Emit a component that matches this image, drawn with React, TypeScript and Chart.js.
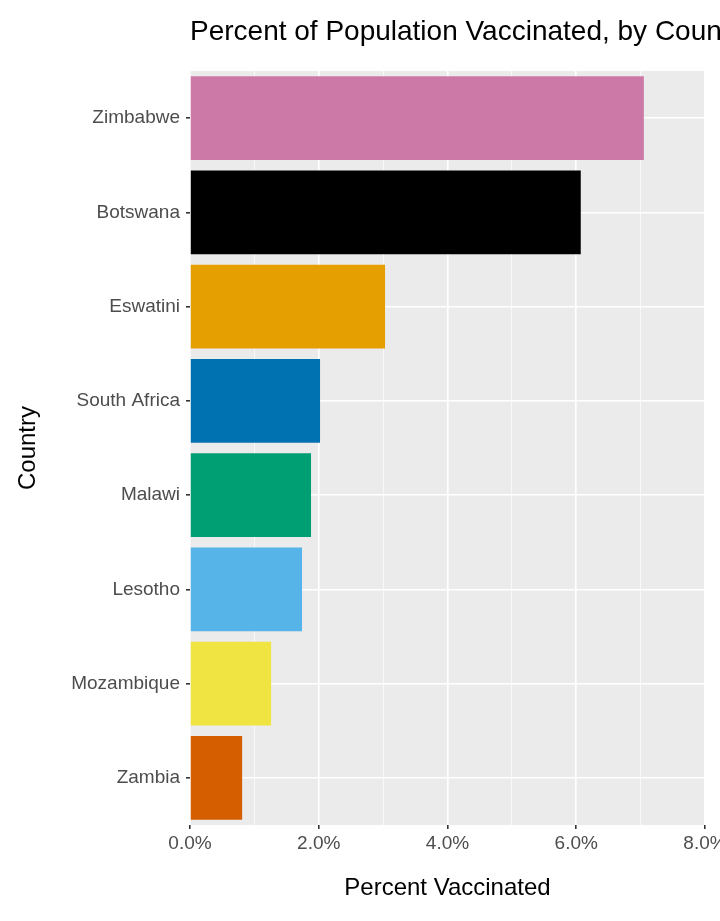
import { useEffect, useRef } from 'react'
import { Chart, registerables } from 'chart.js'

Chart.register(...registerables)

const countries = ['Zimbabwe', 'Botswana', 'Eswatini', 'South Africa', 'Malawi', 'Lesotho', 'Mozambique', 'Zambia']
const percentVaccinated = [7.05, 6.07, 3.03, 2.02, 1.88, 1.74, 1.26, 0.81]
const barColors = ['#CC79A7', '#000000', '#E69F00', '#0072B2', '#009E73', '#56B4E9', '#F0E442', '#D55E00']

const W = 745
const H = 921
const TOP = 71
const BOTTOM = 825

const panelBg = {
  id: 'panelBg',
  beforeDraw(chart: Chart) {
    const { ctx, chartArea: a } = chart
    ctx.save()
    ctx.fillStyle = '#EBEBEB'
    ctx.fillRect(a.left, a.top, a.right - a.left, a.bottom - a.top)
    ctx.fillStyle = '#000000'
    ctx.font = '28px "Liberation Sans", Arial, sans-serif'
    ctx.textBaseline = 'alphabetic'
    ctx.fillText('Percent of Population Vaccinated, by Country', a.left, 40)
    ctx.restore()
  },
}

export default function App() {
  const canvasRef = useRef<HTMLCanvasElement>(null)

  useEffect(() => {
    const canvas = canvasRef.current
    if (!canvas) return
    const font = '"Liberation Sans", Arial, sans-serif'
    const chart = new Chart(canvas, {
      type: 'bar',
      data: {
        labels: countries,
        datasets: [{
          data: percentVaccinated,
          backgroundColor: barColors,
          barPercentage: 0.89,
          categoryPercentage: 1,
        }],
      },
      options: {
        indexAxis: 'y',
        responsive: false,
        animation: false,
        layout: { padding: { top: TOP, right: W - 705, left: 0, bottom: 0 } },
        scales: {
          x: {
            min: 0, max: 8,
            afterFit: (s: any) => { s.height = H - BOTTOM },
            border: { display: false },
            grid: {
              color: '#FFFFFF',
              lineWidth: (c: any) => (c.tick && c.tick.value % 2 === 0 ? 1.6 : 0.7),
              tickLength: 4,
              tickColor: (c: any) => (c.tick && c.tick.value % 2 === 0 ? '#333333' : 'rgba(0,0,0,0)'),
            },
            ticks: {
              stepSize: 1,
              maxRotation: 0,
              autoSkip: false,
              padding: 3,
              color: '#4D4D4D',
              font: { family: font, size: 19 },
              callback: (v: any) => (Number(v) % 2 === 0 ? Number(v).toFixed(1) + '%' : ''),
            },
            title: {
              display: true,
              text: 'Percent Vaccinated',
              color: '#000000',
              font: { family: font, size: 24 },
              padding: { top: 4, bottom: 18 },
            },
          },
          y: {
            afterFit: (s: any) => { s.width = 190 },
            border: { display: false },
            grid: {
              offset: false,
              color: '#FFFFFF',
              lineWidth: 1.6,
              tickLength: 4,
              tickColor: '#333333',
            },
            ticks: {
              padding: 6,
              color: '#4D4D4D',
              font: { family: font, size: 19 },
            },
            title: {
              display: true,
              text: 'Country',
              color: '#000000',
              font: { family: font, size: 24 },
              padding: { top: 14, bottom: 4 },
            },
          },
        },
        plugins: {
          legend: { display: false },
          tooltip: { enabled: false },
        },
      },
      plugins: [panelBg],
    })
    return () => { chart.destroy() }
  }, [])

  return (
    <div style={{ position: 'absolute', left: 0, top: 0, width: 720, height: H, overflow: 'hidden', background: '#fff' }}>
      <canvas ref={canvasRef} width={W} height={H} style={{ width: W, height: H }} />
    </div>
  )
}
